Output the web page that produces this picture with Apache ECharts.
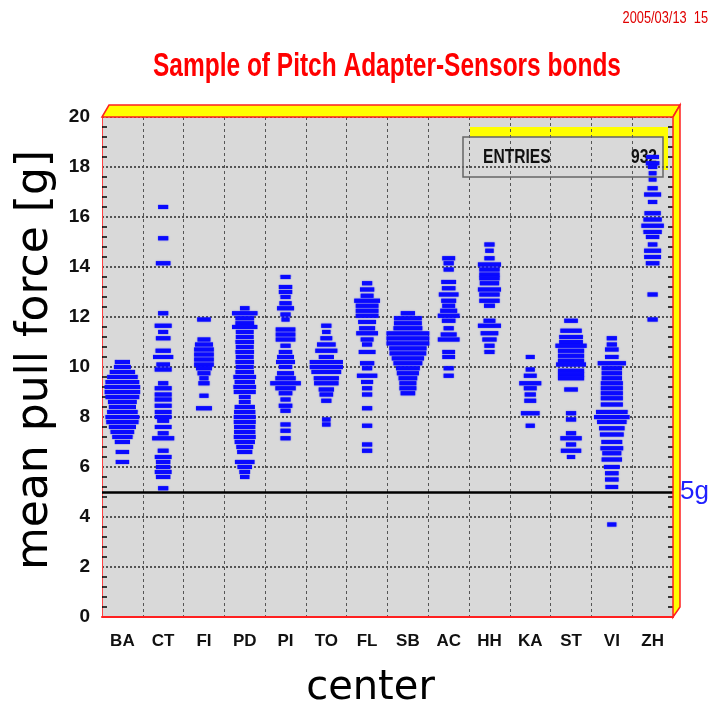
<!DOCTYPE html>
<html>
<head>
<meta charset="utf-8">
<script src="https://cdn.jsdelivr.net/npm/echarts@6/dist/echarts.min.js"></script>
<style>
  html, body { margin: 0; padding: 0; background: #fff; }
  #pullChart { width: 708px; height: 704px; }
</style>
</head>
<body>
<div id="pullChart"></div>
<script>
const centers = ['BA', 'CT', 'FI', 'PD', 'PI', 'TO', 'FL', 'SB', 'AC', 'HH', 'KA', 'ST', 'VI', 'ZH'];
const yTicks  = [0, 2, 4, 6, 8, 10, 12, 14, 16, 18, 20];
const entries = 932;
const limitG  = 5;

// per center: [mean pull force (g), bin content] - content 12 = full column width
const pullBA = [[10.2,4.5],[10.0,5],[9.8,7.5],[9.6,9],[9.4,10],[9.2,10.5],[9.0,10.5],[8.8,10],[8.6,8.5],[8.4,8],[8.2,9],[8.0,10],[7.8,9.5],[7.6,8],[7.4,7],[7.2,6],[7.0,4.5],[6.6,4],[6.2,4]];
const pullCT = [[16.4,3],[15.15,3],[14.15,4.3],[12.15,3],[11.65,5],[11.4,3],[11.15,4.3],[10.65,4.5],[10.4,6],[10.1,4],[9.9,5],[9.35,3],[9.15,5],[8.9,5],[8.7,5],[8.45,5],[8.2,5],[8.0,5],[7.85,3.5],[7.6,5],[7.35,3.2],[7.15,6.5],[6.65,3.2],[6.4,5],[6.2,4.3],[6.0,4.3],[5.8,5],[5.6,4.3],[5.15,3]];
const pullFI = [[11.9,4],[11.1,3.8],[10.9,5.3],[10.7,5.8],[10.5,5.8],[10.3,5.8],[10.1,5.8],[9.95,4.7],[9.75,3.8],[9.55,2.7],[9.35,3.3],[8.85,2.7],[8.35,4.7]];
const pullPD = [[12.35,2.8],[12.15,7.5],[11.95,5.5],[11.75,5.5],[11.6,7.5],[11.4,5.3],[11.2,5.3],[11.0,5.5],[10.8,5.3],[10.6,5.5],[10.4,5.3],[10.2,5.5],[10.0,5.3],[9.8,5.5],[9.6,6.7],[9.4,6],[9.2,6.7],[9.0,6.5],[8.8,3.5],[8.6,3.5],[8.4,6],[8.2,6.3],[8.0,6.5],[7.8,6.5],[7.6,6.3],[7.4,6.3],[7.2,6.5],[7.0,6],[6.8,5],[6.6,4.5],[6.2,5.8],[6.0,4.3],[5.8,3.2],[5.6,2.8]];
const pullPI = [[13.6,3],[13.2,4],[13.0,4],[12.8,3],[12.55,3.6],[12.35,5],[12.1,3],[11.9,2.4],[11.5,5.8],[11.3,5.8],[11.1,5.8],[10.85,3],[10.6,4],[10.4,5],[10.2,5.6],[10.0,4],[9.75,5],[9.55,6],[9.35,9],[9.15,6],[8.95,4],[8.7,3],[8.45,4],[8.25,3],[7.7,3],[7.45,3],[7.15,3]];
const pullTO = [[11.65,3],[11.4,2.5],[11.15,3.5],[10.9,5.5],[10.65,6.5],[10.4,4.5],[10.2,9.8],[10.0,9.8],[9.8,8.8],[9.55,7.4],[9.35,7.2],[9.1,4.5],[8.9,4],[8.65,3],[7.9,2.5],[7.7,2.5]];
const pullFL = [[13.35,3],[13.1,4.2],[12.85,3.8],[12.65,7.6],[12.45,6.7],[12.25,6.7],[12.05,6.7],[11.8,5.3],[11.55,4.7],[11.35,6.4],[11.1,3.8],[10.9,3],[10.6,5],[10.15,4.2],[9.95,3],[9.65,6],[9.4,3.6],[9.15,3],[8.9,3],[8.35,3],[7.65,3],[6.9,3],[6.65,3]];
const pullSB = [[12.15,4.2],[11.95,8.2],[11.75,8.2],[11.55,8.5],[11.35,12.6],[11.15,12.6],[10.95,12.6],[10.75,11],[10.55,10.8],[10.35,9.5],[10.15,8.5],[9.95,7],[9.75,6.5],[9.55,5.5],[9.35,5],[9.15,5],[8.95,4.3]];
const pullAC = [[14.35,3.8],[14.15,3],[13.9,3],[13.4,4.4],[13.15,4],[12.9,5.8],[12.65,4.4],[12.45,3.8],[12.25,5],[12.05,6.4],[11.85,4],[11.55,3],[11.3,4.7],[11.1,6.4],[10.6,3.8],[10.4,3.8],[9.95,3],[9.65,3]];
const pullHH = [[14.9,3],[14.65,2.5],[14.35,3],[14.1,6.8],[13.9,6],[13.7,6],[13.55,6],[13.35,5.7],[13.1,6.8],[12.9,6],[12.65,6],[12.45,3.2],[11.85,3.5],[11.65,6.8],[11.35,5.2],[11.1,4.2],[10.85,3],[10.6,3]];
const pullKA = [[10.4,2.7],[9.9,2.7],[9.65,3.8],[9.35,6.5],[9.15,3.8],[8.9,3.3],[8.65,3.5],[8.15,5.5],[7.65,2.7]];
const pullST = [[11.85,4],[11.45,6.3],[11.2,7],[11.0,7],[10.85,9.2],[10.65,7.7],[10.45,7.7],[10.25,7.7],[10.1,8.8],[9.85,7.7],[9.7,7.7],[9.55,7.7],[9.1,4],[8.15,3],[7.9,3],[7.35,3],[7.15,6.3],[6.9,3],[6.65,6],[6.4,2.5]];
const pullVI = [[11.15,3],[10.9,3],[10.7,4],[10.4,4],[10.15,8.3],[9.95,6],[9.75,6],[9.55,6],[9.35,6.5],[9.15,6.5],[8.95,6.5],[8.75,6.5],[8.5,6.5],[8.2,9.3],[8.0,10.5],[7.8,8.7],[7.55,7.5],[7.3,7],[7.0,6.2],[6.75,6.7],[6.55,5.6],[6.3,6],[6.0,4.7],[5.75,4],[5.5,4],[5.2,3.8],[3.7,2.7]];
const pullZH = [[18.4,3.8],[18.15,4],[18.0,2.8],[17.75,2.3],[17.5,2.3],[17.15,3],[16.9,5],[16.6,2.8],[16.15,4.8],[15.9,5.4],[15.65,6.6],[15.4,5.4],[15.2,4],[14.9,2.8],[14.65,5],[14.4,5],[14.15,4],[12.9,3],[11.9,3]];

const pullByCenter = [pullBA, pullCT, pullFI, pullPD, pullPI, pullTO, pullFL, pullSB, pullAC, pullHH, pullKA, pullST, pullVI, pullZH];

const FULL_CONTENT = 12;
const BIN_H        = 0.17;
const sansFont     = "'Liberation Sans', Arial, sans-serif";

document.addEventListener('DOMContentLoaded', () => {

    const chart = echarts.init(document.getElementById('pullChart'));

    let boxData = [];
    pullByCenter.forEach(function (arr, i) {
        arr.forEach(function (p) {
            boxData.push([i, p[0], p[1]]);
        });
    });

    function renderBox(params, api) {
        const c    = api.coord([api.value(0), api.value(1)]);
        const colW = api.size([1, 0])[0];
        const h    = api.size([0, BIN_H])[1];
        const w    = api.value(2) / FULL_CONTENT * colW;
        return {
            type: 'rect',
            shape: { x: c[0] - w / 2, y: c[1] - h / 2, width: w, height: h },
            style: { fill: '#0a0aff', shadowBlur: 1.5, shadowColor: 'rgba(0,0,255,0.6)' }
        };
    }

    const L = 102, T = 117, R = 673, B = 617;

    const option = {
        animation: false,
        grid: { left: L, top: T, width: R - L, height: B - T, outerBoundsMode: 'none', containLabel: false },
        xAxis: [
            {
                type: 'category', data: centers,
                name: 'center', nameLocation: 'middle', nameGap: 52,
                nameTextStyle: { fontSize: 40, color: '#000', fontFamily: 'DejaVu Sans', padding: [0, 34, 0, 0] },
                axisLine: { lineStyle: { color: '#ff2020', width: 2 } },
                axisTick: { inside: true, length: 20, lineStyle: { color: '#000', width: 1.5 } },
                axisLabel: { fontSize: 17, fontWeight: 'bold', color: '#111', fontFamily: sansFont, margin: 16 },
                splitLine: { show: true, lineStyle: { color: '#555', width: 1, type: [3, 3] } }
            },
            {
                type: 'category', data: centers, position: 'top',
                axisLine: { show: false },
                axisTick: { inside: true, length: 20, lineStyle: { color: '#000', width: 1.5 } },
                axisLabel: { show: false }
            }
        ],
        yAxis: [
            {
                type: 'value', min: 0, max: 20, interval: 2,
                name: 'mean pull force [g]', nameLocation: 'middle', nameGap: 42,
                nameTextStyle: { fontSize: 44, color: '#000', fontFamily: 'DejaVu Sans', padding: [0, 0, 0, 14] },
                axisLine: { show: true, lineStyle: { color: '#ff4040', width: 1 } },
                axisTick: { inside: true, length: 10, lineStyle: { color: '#000', width: 2 } },
                minorTick: { show: true, splitNumber: 5, length: 5, lineStyle: { color: '#000', width: 1.5 } },
                axisLabel: {
                    fontSize: 19, fontWeight: 'bold', color: '#111', fontFamily: sansFont, margin: 12,
                    formatter: (v) => yTicks.includes(v) ? String(v) : ''
                },
                splitLine: { show: true, lineStyle: { color: '#333', width: 1.6, type: [2, 2] } }
            },
            {
                type: 'value', min: 0, max: 20, interval: 2, position: 'right',
                axisLine: { show: true, lineStyle: { color: '#ff4040', width: 1 } },
                axisTick: { inside: true, length: 10, lineStyle: { color: '#000', width: 2 } },
                minorTick: { show: true, splitNumber: 5, length: 5, lineStyle: { color: '#000', width: 1.5 } },
                axisLabel: { show: false },
                splitLine: { show: false }
            }
        ],
        graphic: [
            // title, squeezed like the original narrow font
            { type: 'text', x: 387, y: 67, scaleX: 0.72,
              style: { text: 'Sample of Pitch Adapter-Sensors bonds', fill: '#ff0000', align: 'center', verticalAlign: 'middle',
                       font: "bold 34px 'Liberation Sans', Arial, sans-serif" } },
            // print date
            { type: 'text', x: 708, y: 19, scaleX: 0.8,
              style: { text: '2005/03/13  15', fill: '#e00000', align: 'right', verticalAlign: 'middle',
                       font: "16px 'Liberation Sans', Arial, sans-serif" } },
            // plot background + 3D frame
            { type: 'rect', z: -20, shape: { x: L, y: T, width: R - L, height: B - T }, style: { fill: '#d9d9d9' } },
            { type: 'polygon', z: 10, shape: { points: [[L, T], [L + 7, T - 12], [R + 7, T - 12], [R, T]] },
              style: { fill: '#ffff00', stroke: '#ff2020', lineWidth: 1.5 } },
            { type: 'polygon', z: 10, shape: { points: [[R, T], [R + 7, T - 12], [R + 7, B - 10], [R, B]] },
              style: { fill: '#ffff00', stroke: '#ff2020', lineWidth: 1.5 } },
            // stats box
            { type: 'polygon', z: -10, shape: { points: [[470, 127], [668, 127], [668, 170], [663, 170], [663, 137], [470, 137]] },
              style: { fill: '#ffff00' } },
            { type: 'rect', z: 5, shape: { x: 463, y: 137, width: 200, height: 40 },
              style: { fill: 'none', stroke: '#666', lineWidth: 1.5 } },
            { type: 'text', z: 1, x: 483, y: 157, scaleX: 0.78,
              style: { text: 'ENTRIES', fill: '#111', verticalAlign: 'middle', font: "bold 20px 'Liberation Sans', Arial, sans-serif" } },
            { type: 'text', z: 1, x: 657, y: 157, scaleX: 0.78,
              style: { text: String(entries), fill: '#111', align: 'right', verticalAlign: 'middle', font: "bold 20px 'Liberation Sans', Arial, sans-serif" } }
        ],
        series: [{
            type: 'custom',
            renderItem: renderBox,
            encode: { x: 0, y: 1 },
            data: boxData,
            z: 3,
            markLine: {
                silent: true,
                symbol: ['none', 'none'],
                lineStyle: { color: '#000', width: 2.5, type: 'solid' },
                label: { show: true, position: 'end', distance: 7, formatter: limitG + 'g',
                    color: '#2020ff', fontSize: 26, fontFamily: sansFont },
                data: [{ yAxis: limitG }]
            }
        }]
    };

    chart.setOption(option);
});
</script>
</body>
</html>
